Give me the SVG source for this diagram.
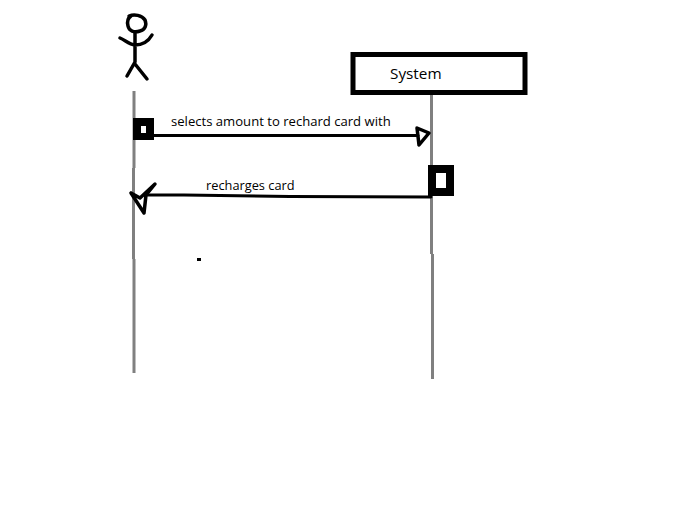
<svg xmlns="http://www.w3.org/2000/svg" width="677" height="519" viewBox="0 0 677 519">
<style>
.ink{fill:none;stroke:#000;stroke-width:3;stroke-linecap:round;stroke-linejoin:round}
.thick{stroke-width:3.500}
.life{fill:none;stroke:#808080;stroke-width:3}
.t{font-family:"Open Sans","Noto Sans",sans-serif;fill:#000}
</style>
<rect width="677" height="519" fill="#fff"/>
<g id="actor">
<path class="ink thick" d="M129 16C134 14 142 15 145 20C147 25 145 30 140 31C134 33 129 31 128 26C127 22 128 18 131 16"/>
<path class="ink thick" d="M135 32L135 62M120 38C125 40 129 44 135 45C142 45 148 42 152 35M135 62L127 76M135 64L147 79"/>
</g>
<g id="actor-lifeline"><path class="life" d="M134 91V168M133.500 168V259M134 259V373"/></g>
<g id="system">
<rect x="353" y="54.500" width="172" height="38" fill="#fff" stroke="#000" stroke-width="5"/>
<text class="t" x="390" y="79" font-size="15.300">System</text>
</g>
<g id="system-lifeline"><path class="life" d="M431.500 95V254M432.500 254V379"/></g>
<g id="activation-1"><rect x="133" y="118" width="21" height="22" fill="#000"/><rect x="141" y="126" width="5" height="7" fill="#fff"/></g>
<g id="activation-2"><rect x="428" y="165" width="26" height="31" fill="#000"/><rect x="436" y="173" width="10" height="15" fill="#fff"/></g>
<g id="connectors">
<path class="ink" stroke-linecap="butt" d="M154 135.500H418"/>
<path class="ink thick" d="M417 128L429 133L419 145Z"/>
<path class="ink" d="M431 197L290 196.500L184 195H146"/>
<path class="ink thick" d="M131 193L144 213L146 195L155 184L140 198L131 193"/>
</g>
<text class="t" x="171" y="126" font-size="13.100">selects amount to rechard card with</text>
<text class="t" x="206" y="190" font-size="12.800">recharges card</text>
<rect x="197" y="258" width="4" height="3" fill="#000"/>
</svg>
